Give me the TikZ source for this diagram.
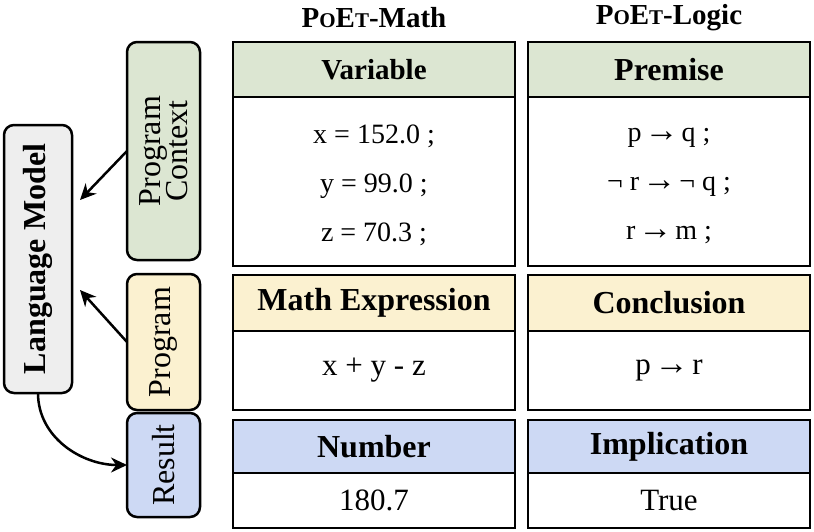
\documentclass[tikz,border=0pt]{standalone}
\usepackage{fontspec}
\setmainfont{Liberation Serif}
\usetikzlibrary{arrows.meta}
\definecolor{ctxgreen}{HTML}{DCE6D2}
\definecolor{prgyellow}{HTML}{FBF1D0}
\definecolor{resblue}{HTML}{CDD9F4}
\definecolor{lmgray}{HTML}{EEEEEE}
\tikzset{
  sidebox/.style={draw, line width=2.5pt, rounded corners=10pt, rotate=90, align=center, inner sep=0pt, outer sep=0pt, font=\fontsize{32}{30}\selectfont},
  hdr/.style={draw, line width=2.5pt, anchor=north west, minimum width=282pt, inner sep=0pt, outer sep=0pt, font=\bfseries\fontsize{32}{34}\selectfont},
  bodycell/.style={draw, line width=2.5pt, fill=white, anchor=north, minimum width=282pt, inner sep=0pt, outer sep=0pt, align=center, font=\fontsize{31}{49}\selectfont},
  ttl/.style={font=\bfseries\fontsize{29}{30}\selectfont},
  arr/.style={line width=2.5pt, -{Stealth[length=16pt,width=15pt]}}
}
\newcommand{\poet}{P{\fontsize{21}{22}\selectfont O}E{\fontsize{21}{22}\selectfont T}}
\newcommand{\impl}{{\fontsize{34}{34}\selectfont\kern-4pt→\kern-4pt}}
\begin{document}
\begin{tikzpicture}[x=1pt,y=-1pt]
\useasboundingbox (0,0) rectangle (814,531);
% left column
\node[sidebox, fill=lmgray, minimum width=268pt, minimum height=68pt, font=\bfseries\fontsize{32}{32}\selectfont] (lm) at (38,259) {Language Model};
\node[sidebox, fill=ctxgreen, minimum width=218pt, minimum height=73pt] (ctx) at (163.5,151) {Program\\[-3pt]Context};
\node[sidebox, fill=prgyellow, minimum width=136pt, minimum height=73pt] (prg) at (163.5,342) {Program};
\node[sidebox, fill=resblue, minimum width=104pt, minimum height=73pt] (res) at (163.5,465) {Result};
% titles
\node[ttl] (t1) at (374,18) {\poet-Math};
\node[ttl] (t2) at (669,18) {\poet-Logic};
% math table
\node[hdr, fill=ctxgreen, minimum height=55pt, font=\bfseries\fontsize{29}{30}\selectfont] (vh) at (233,42) {Variable};
\node[bodycell, minimum height=169pt] (vb) at (vh.south) {};
\node[align=center, font=\fontsize{28}{49}\selectfont] (vt) at ([yshift=-4pt]vb.center) {x = 152.0 ;\\y = 99.0 ;\\z = 70.3 ;};
\node[hdr, fill=prgyellow, minimum height=56pt] (mh) at (233,275) {Math Expression};
\node[bodycell, minimum height=79pt] (mb) at (mh.south) {x + y - z};
\node[hdr, fill=resblue, minimum height=53pt] (nh) at (233,420) {Number};
\node[bodycell, minimum height=55pt] (nb) at (nh.south) {180.7};
% logic table
\node[hdr, fill=ctxgreen, minimum height=55pt] (ph) at (528,42) {Premise};
\node[bodycell, minimum height=169pt] (pb) at (ph.south) {};
\node[align=center, font=\fontsize{28}{49}\selectfont] (pt) at ([yshift=-4pt]pb.center) {p \impl{} q ;\\¬ r \impl{} ¬ q ;\\r \impl{} m ;};
\node[hdr, fill=prgyellow, minimum height=56pt] (ch) at (528,275) {Conclusion};
\node[bodycell, minimum height=79pt] (cb) at (ch.south) {p \impl{} r};
\node[hdr, fill=resblue, minimum height=53pt] (ih) at (528,420) {Implication};
\node[bodycell, minimum height=55pt] (ib) at (ih.south) {True};
% connectors
\draw[arr] (ctx.north) -- ([xshift=8pt,yshift=59pt]lm.south);
\draw[arr] (prg.north) -- ([xshift=8pt,yshift=-31pt]lm.south);
\draw[arr] (lm.west) to[out=-90,in=180] (res.north);
\end{tikzpicture}
\end{document}
